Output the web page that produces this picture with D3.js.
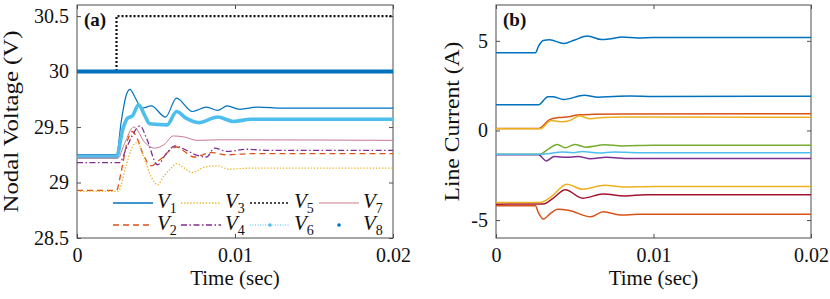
<!DOCTYPE html>
<html>
<head>
<meta charset="utf-8">
<script src="https://cdn.jsdelivr.net/npm/d3@7"></script>
<style>
    body { margin: 0; background: #fff; }
    svg text { font-family: 'Liberation Serif', 'Times New Roman', serif; fill: #111; }
</style>
</head>
<body>
<svg id="chart" width="830" height="299"></svg>
<script>
/*global d3*/

// ---- nodal voltages, panel (a): [time (s), volts]
var v1 = [[0, 29.25], [0.0025, 29.25], [0.0028, 29.55], [0.0031, 29.78], [0.00335, 29.84], [0.0037, 29.76],
    [0.0041, 29.67], [0.0047, 29.69], [0.0056, 29.59], [0.0063, 29.76], [0.0073, 29.64], [0.0082, 29.68],
    [0.0089, 29.65], [0.0095, 29.69], [0.0103, 29.66], [0.0115, 29.68], [0.013, 29.67], [0.02, 29.67]];
var v2 = [[0, 28.93], [0.0025, 28.93], [0.0028, 29.1], [0.0032, 29.38], [0.0035, 29.46], [0.0038, 29.4],
    [0.0042, 29.25], [0.0047, 29.15], [0.0052, 29.2], [0.0063, 29.32], [0.0068, 29.28], [0.0074, 29.23],
    [0.0085, 29.27], [0.0095, 29.25], [0.011, 29.26], [0.02, 29.26]];
var v3 = [[0, 28.92], [0.0026, 28.92], [0.0031, 29.15], [0.0035, 29.32], [0.0038, 29.36], [0.0043, 29.2],
    [0.0047, 29.05], [0.0051, 28.98], [0.0055, 29.06], [0.0059, 29.12], [0.0063, 29.17], [0.0068, 29.13],
    [0.0073, 29.09], [0.0081, 29.14], [0.0089, 29.15], [0.0096, 29.12], [0.011, 29.13], [0.02, 29.13]];
var v4 = [[0, 29.18], [0.0027, 29.18], [0.0031, 29.3], [0.0036, 29.45], [0.004, 29.51], [0.0044, 29.4],
    [0.0051, 29.16], [0.0056, 29.25], [0.0062, 29.33], [0.0068, 29.3], [0.0075, 29.25], [0.0082, 29.23],
    [0.0087, 29.31], [0.0095, 29.28], [0.0108, 29.3], [0.012, 29.29], [0.02, 29.29]];
var v5 = [[0, 30], [0.0025, 30], [0.0025, 30.5], [0.02, 30.5]];
var v6 = [[0, 29.23], [0.0025, 29.23], [0.0029, 29.48], [0.0032, 29.58], [0.0035, 29.6], [0.0039, 29.7],
    [0.0043, 29.6], [0.0046, 29.53], [0.0057, 29.52], [0.0063, 29.64], [0.0069, 29.58], [0.0077, 29.54],
    [0.0089, 29.59], [0.0099, 29.55], [0.011, 29.57], [0.02, 29.57]];
var v7 = [[0, 29.22], [0.0026, 29.22], [0.003, 29.35], [0.0036, 29.5], [0.0043, 29.36], [0.0049, 29.31],
    [0.0055, 29.34], [0.0061, 29.42], [0.0068, 29.41], [0.0076, 29.38], [0.009, 29.385], [0.02, 29.38]];
var v8 = [[0, 30], [0.02, 30]];

// ---- line currents, panel (b): [time (s), amps]
var i1 = [[0, 4.33], [0.0025, 4.33], [0.0027, 4.7], [0.003, 5.02], [0.0034, 5.06], [0.0043, 4.85],
    [0.005, 5.05], [0.0058, 5.27], [0.0067, 5.07], [0.0073, 5.12], [0.008, 5.21], [0.009, 5.16],
    [0.01, 5.19], [0.012, 5.18], [0.02, 5.18]];
var i2 = [[0, 0.11], [0.0027, 0.11], [0.0034, 0.6], [0.004, 0.72], [0.0046, 0.76], [0.0053, 0.88],
    [0.0062, 0.9], [0.008, 0.92], [0.02, 0.93]];
var i3 = [[0, 0.09], [0.0028, 0.09], [0.0035, 0.56], [0.0042, 0.48], [0.0047, 0.56], [0.0053, 0.8],
    [0.006, 0.65], [0.0068, 0.73], [0.008, 0.75], [0.02, 0.74]];
var i4 = [[0, -1.36], [0.0027, -1.36], [0.0032, -1.7], [0.0037, -1.45], [0.0045, -1.5], [0.0052, -1.45],
    [0.006, -1.58], [0.007, -1.5], [0.0085, -1.57], [0.02, -1.56]];
var i5 = [[0, -1.33], [0.0028, -1.33], [0.0033, -1.05], [0.0039, -0.78], [0.0044, -0.96], [0.005, -0.78],
    [0.0057, -0.93], [0.0069, -0.8], [0.008, -0.86], [0.01, -0.83], [0.02, -0.83]];
var i6 = [[0, -1.33], [0.0028, -1.33], [0.0034, -1.28], [0.0042, -1.2], [0.0049, -1.24], [0.0055, -1.17],
    [0.0065, -1.26], [0.0075, -1.2], [0.009, -1.24], [0.02, -1.24]];
var i7 = [[0, -4.11], [0.003, -4.1], [0.0036, -3.8], [0.0044, -3.31], [0.0055, -3.78], [0.0068, -3.55],
    [0.0082, -3.65], [0.0095, -3.58], [0.02, -3.59]];
var i8 = [[0, 1.44], [0.0027, 1.44], [0.0033, 1.88], [0.0036, 1.88], [0.0043, 1.73], [0.0056, 1.96],
    [0.0065, 1.86], [0.0075, 1.9], [0.0085, 1.92], [0.01, 1.9], [0.02, 1.91]];
var i9 = [[0, -4.2], [0.0025, -4.2], [0.0027, -4.6], [0.003, -4.94], [0.0035, -4.6], [0.0039, -4.39],
    [0.0046, -4.45], [0.006, -4.82], [0.0068, -4.54], [0.008, -4.72], [0.009, -4.68], [0.02, -4.68]];
var i10 = [[0, -4.02], [0.0028, -4.02], [0.0035, -3.7], [0.0045, -3.0], [0.0055, -3.28], [0.0069, -3.06],
    [0.008, -3.15], [0.01, -3.12], [0.02, -3.13]];

var timeTicks = [0, 0.01, 0.02];
var voltTicks = [28.5, 29, 29.5, 30, 30.5];
var currentTicks = [-5, 0, 5];
var voltNames = ['1', '2', '3', '4', '5', '6', '7', '8'];

(function (d3) {
    'use strict';

    var svg = d3.select('#chart'),
        axisColor = '#4d4d4d';

    // draws the frame, inward ticks on all four sides, tick labels and axis titles
    function makePanel(box, yDomain, yTicks, yTitle, yTitleX, yTitleLen, tag) {
        var x = d3.scaleLinear().domain([0, 0.02]).range([box.left, box.right]),
            y = d3.scaleLinear().domain(yDomain).range([box.bottom, box.top]),
            g = svg.append('g'),
            fmt = function (d) { return String(d); };

        function styleAxis(sel) {
            sel.attr('font-family', null).attr('font-size', null);
            sel.select('.domain').remove();
            sel.selectAll('.tick line').attr('stroke', axisColor);
            sel.selectAll('.tick text')
                .style('font-size', '20px')
                .attr('fill', '#111');
        }

        g.append('g').attr('transform', 'translate(0,' + box.bottom + ')')
            .call(d3.axisBottom(x).tickValues(timeTicks).tickFormat(fmt).tickSize(-4).tickPadding(10))
            .call(styleAxis);
        g.append('g').attr('transform', 'translate(0,' + box.top + ')')
            .call(d3.axisTop(x).tickValues(timeTicks).tickFormat('').tickSize(-4))
            .call(styleAxis);
        g.append('g').attr('transform', 'translate(' + box.left + ',0)')
            .call(d3.axisLeft(y).tickValues(yTicks).tickFormat(fmt).tickSize(-4).tickPadding(8))
            .call(styleAxis);
        g.append('g').attr('transform', 'translate(' + box.right + ',0)')
            .call(d3.axisRight(y).tickValues(yTicks).tickFormat('').tickSize(-4))
            .call(styleAxis);

        g.append('rect')
            .attr('x', box.left).attr('y', box.top)
            .attr('width', box.right - box.left).attr('height', box.bottom - box.top)
            .attr('fill', 'none').attr('stroke', axisColor).attr('stroke-width', 1);

        g.append('text')
            .attr('x', (box.left + box.right) / 2).attr('y', 285)
            .attr('text-anchor', 'middle').style('font-size', '21px')
            .text('Time (sec)');

        g.append('text')
            .attr('transform', 'translate(' + yTitleX + ',' + ((box.top + box.bottom) / 2) + ') rotate(-90)')
            .attr('text-anchor', 'middle').style('font-size', '21px')
            .attr('textLength', yTitleLen).attr('lengthAdjust', 'spacingAndGlyphs')
            .text(yTitle);

        g.append('text')
            .attr('x', box.left + 7).attr('y', 26)
            .style('font-size', '19px').style('font-weight', 'bold')
            .text(tag);

        return {x: x, y: y, g: g};
    }

    function drawLine(panel, data, spec, curve) {
        var line = d3.line()
            .x(function (d) { return panel.x(d[0]); })
            .y(function (d) { return panel.y(d[1]); })
            .curve(curve || d3.curveMonotoneX);
        panel.g.append('path')
            .datum(data)
            .attr('d', line)
            .attr('fill', 'none')
            .attr('stroke', spec.color)
            .attr('stroke-width', spec.width)
            .attr('stroke-dasharray', spec.dash || null)
            .attr('stroke-linejoin', 'round');
    }

    var left = makePanel({left: 77, right: 393, top: 5, bottom: 238}, [28.5, 30.6], voltTicks,
            'Nodal Voltage (V)', 18, 182, '(a)'),
        right = makePanel({left: 496, right: 811, top: 5, bottom: 238}, [-6, 7], currentTicks,
            'Line Current (A)', 459, 160, '(b)');

    // panel (a) series, in plotting order
    var voltSpecs = [
        {data: v1, color: '#0072BD', width: 1.2},
        {data: v2, color: '#D95319', width: 1.3, dash: '6,4'},
        {data: v3, color: '#EDB120', width: 1.3, dash: '1.3,1.8'},
        {data: v4, color: '#7E2F8E', width: 1.3, dash: '6,2.5,1.5,2.5'},
        {data: v5, color: '#111111', width: 2.2, dash: '2,2', linear: true},
        {data: v6, color: '#4DBEEE', width: 3.6},
        {data: v7, color: '#C97A8E', width: 1},
        {data: v8, color: '#0072BD', width: 4, linear: true}
    ];
    voltSpecs.forEach(function (s) {
        drawLine(left, s.data, s, s.linear ? d3.curveLinear : d3.curveMonotoneX);
    });

    // panel (b) series
    var currentSpecs = [
        {data: i1, color: '#0072BD'},
        {data: i2, color: '#D95319'},
        {data: i3, color: '#EDB120'},
        {data: i4, color: '#7E2F8E'},
        {data: i5, color: '#77AC30'},
        {data: i6, color: '#4DBEEE'},
        {data: i7, color: '#A2142F'},
        {data: i8, color: '#0072BD'},
        {data: i9, color: '#D95319'},
        {data: i10, color: '#EDB120'}
    ];
    currentSpecs.forEach(function (s) {
        s.width = 1.5;
        drawLine(right, s.data, s);
    });

    // legend: 4 columns x 2 rows, filled column by column
    var legendCols = [113, 181, 250, 319],
        legendRows = [203, 225],
        legendItems = [
            {dash: voltSpecs[0].dash, color: voltSpecs[0].color, width: 1.3},
            {dash: voltSpecs[1].dash, color: voltSpecs[1].color, width: 1.3},
            {dash: voltSpecs[2].dash, color: voltSpecs[2].color, width: 1.3},
            {dash: voltSpecs[3].dash, color: voltSpecs[3].color, width: 1.3},
            {dash: voltSpecs[4].dash, color: voltSpecs[4].color, width: 1.6},
            {dash: '1,1.5', color: voltSpecs[5].color, width: 1, marker: true},
            {color: voltSpecs[6].color, width: 1},
            {color: voltSpecs[7].color, width: 0, marker: true}
        ],
        legend = left.g.append('g');

    legendItems.forEach(function (item, k) {
        var cx = legendCols[Math.floor(k / 2)],
            cy = legendRows[k % 2],
            lineLen = 40,
            entry = legend.append('g'),
            label;
        if (item.width > 0) {
            entry.append('line')
                .attr('x1', cx).attr('x2', cx + lineLen)
                .attr('y1', cy).attr('y2', cy)
                .attr('stroke', item.color)
                .attr('stroke-width', item.width)
                .attr('stroke-dasharray', item.dash || null);
        }
        if (item.marker) {
            entry.append('circle')
                .attr('cx', cx + lineLen / 2).attr('cy', cy).attr('r', 1.8)
                .attr('fill', item.color);
        }
        label = entry.append('text')
            .attr('x', cx + lineLen + 4).attr('y', cy + 5)
            .style('font-size', '21px');
        label.append('tspan').style('font-style', 'italic').text('V');
        label.append('tspan').style('font-size', '14px').attr('dy', 5).text(voltNames[k]);
    });

}(window.d3));
</script>
</body>
</html>
